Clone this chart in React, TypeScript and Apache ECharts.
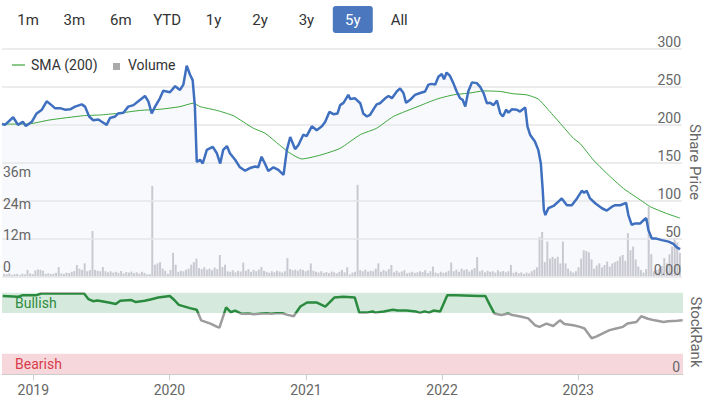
import React, { useEffect, useRef } from 'react';
import * as echarts from 'echarts';

const FONT = 'Roboto, "Liberation Sans", Arial, sans-serif';

const rangeButtons = ['1m', '3m', '6m', 'YTD', '1y', '2y', '3y', '5y', 'All'];
const selectedRange = '5y';
const priceAxisName = 'Share Price';
const rankAxisName = 'StockRank';

const priceSeries: [string, number][] = [
  ['2018-10-09', 201], ['2018-10-17', 200], ['2018-11-08', 210], ['2018-11-21', 200], ['2018-12-04', 204],
  ['2018-12-12', 198.5], ['2018-12-28', 204], ['2019-01-10', 215], ['2019-01-24', 220], ['2019-02-06', 231],
  ['2019-02-19', 226], ['2019-02-28', 222], ['2019-03-14', 222], ['2019-03-27', 220], ['2019-04-10', 220.5],
  ['2019-04-23', 224], ['2019-05-11', 227], ['2019-05-20', 224], ['2019-05-31', 211], ['2019-06-11', 206],
  ['2019-06-25', 207], ['2019-07-04', 204], ['2019-07-17', 200], ['2019-07-26', 209], ['2019-08-09', 211],
  ['2019-08-17', 215], ['2019-08-31', 216], ['2019-09-13', 224], ['2019-09-27', 226], ['2019-10-10', 231],
  ['2019-10-28', 238], ['2019-11-06', 231], ['2019-11-15', 215], ['2019-11-24', 224], ['2019-12-07', 235],
  ['2019-12-16', 245], ['2020-01-03', 243], ['2020-01-17', 251], ['2020-01-30', 246], ['2020-02-08', 253],
  ['2020-02-17', 278], ['2020-02-26', 266], ['2020-03-04', 259], ['2020-03-10', 224], ['2020-03-15', 151],
  ['2020-03-24', 154], ['2020-03-31', 149], ['2020-04-11', 167], ['2020-04-27', 171], ['2020-05-08', 162.5],
  ['2020-05-17', 149], ['2020-05-25', 167], ['2020-06-04', 172], ['2020-06-12', 162.5], ['2020-06-26', 154],
  ['2020-07-09', 144], ['2020-07-23', 139.5], ['2020-08-05', 143], ['2020-08-19', 145], ['2020-08-27', 144],
  ['2020-09-05', 158], ['2020-09-14', 149], ['2020-09-23', 139], ['2020-10-07', 144], ['2020-10-20', 140.5],
  ['2020-11-03', 134], ['2020-11-12', 167], ['2020-11-21', 184], ['2020-12-04', 168], ['2020-12-13', 173.5],
  ['2020-12-26', 187], ['2021-01-04', 185], ['2021-01-18', 198], ['2021-01-31', 193], ['2021-02-14', 198],
  ['2021-02-23', 204], ['2021-03-06', 217], ['2021-03-17', 214], ['2021-03-28', 215], ['2021-04-04', 226],
  ['2021-04-13', 229], ['2021-04-26', 239.5], ['2021-05-01', 234], ['2021-05-14', 235], ['2021-05-28', 228.5],
  ['2021-06-05', 215], ['2021-06-15', 211], ['2021-06-23', 213], ['2021-07-02', 220], ['2021-07-11', 227],
  ['2021-07-20', 228.5], ['2021-08-03', 235], ['2021-08-12', 238], ['2021-08-21', 235], ['2021-09-03', 244],
  ['2021-09-12', 248], ['2021-09-21', 242], ['2021-09-28', 229], ['2021-10-09', 233], ['2021-10-22', 239.5],
  ['2021-11-05', 242], ['2021-11-18', 244], ['2021-11-27', 253], ['2021-12-06', 254], ['2021-12-15', 253],
  ['2021-12-24', 263.5], ['2022-01-02', 267], ['2022-01-08', 260], ['2022-01-15', 269], ['2022-01-24', 264.5],
  ['2022-02-02', 255], ['2022-02-11', 244], ['2022-02-20', 235], ['2022-02-27', 233], ['2022-03-06', 224],
  ['2022-03-14', 244], ['2022-03-24', 256], ['2022-04-06', 255], ['2022-04-15', 250], ['2022-04-24', 242],
  ['2022-05-03', 228.5], ['2022-05-12', 229], ['2022-05-21', 226], ['2022-05-30', 232], ['2022-06-08', 215],
  ['2022-06-15', 211], ['2022-06-24', 220], ['2022-06-30', 216], ['2022-07-09', 220.5], ['2022-07-22', 220],
  ['2022-07-31', 217.5], ['2022-08-14', 223], ['2022-08-20', 198], ['2022-08-27', 187], ['2022-09-09', 178],
  ['2022-09-18', 167], ['2022-09-25', 149], ['2022-09-30', 114], ['2022-10-03', 88], ['2022-10-07', 81],
  ['2022-10-15', 90], ['2022-10-29', 93], ['2022-11-11', 98.7], ['2022-11-20', 103], ['2022-12-04', 94],
  ['2022-12-17', 94], ['2022-12-31', 103], ['2023-01-13', 113], ['2023-01-19', 110.5], ['2023-01-26', 113],
  ['2023-02-04', 103], ['2023-02-18', 96.6], ['2023-03-08', 90], ['2023-03-21', 87], ['2023-04-04', 92],
  ['2023-04-13', 94], ['2023-04-26', 94], ['2023-05-12', 97], ['2023-05-18', 81], ['2023-05-27', 68],
  ['2023-06-05', 70], ['2023-06-19', 70], ['2023-06-28', 74.5], ['2023-07-05', 77], ['2023-07-11', 61],
  ['2023-07-20', 50], ['2023-08-01', 50], ['2023-08-16', 48], ['2023-09-03', 46], ['2023-09-16', 43],
  ['2023-09-25', 38.5], ['2023-10-04', 36],
];

const smaSeries: [string, number][] = [
  ['2018-10-09', 201], ['2018-12-14', 201], ['2019-02-15', 206.5], ['2019-05-15', 212], ['2019-06-29', 213],
  ['2019-08-13', 215], ['2019-10-15', 219], ['2019-12-07', 220.5], ['2020-01-30', 224], ['2020-03-06', 228.5],
  ['2020-03-24', 224], ['2020-05-08', 219], ['2020-06-21', 212], ['2020-08-14', 195.5], ['2020-09-14', 189],
  ['2020-10-23', 173.5], ['2020-11-21', 162.5], ['2020-12-22', 155], ['2021-02-09', 160], ['2021-04-04', 169],
  ['2021-05-28', 187], ['2021-07-11', 195.5], ['2021-08-25', 211], ['2021-11-03', 225], ['2021-12-20', 234],
  ['2022-02-02', 239.5], ['2022-03-19', 242], ['2022-04-24', 244.7], ['2022-06-08', 244], ['2022-07-13', 241],
  ['2022-08-18', 239.5], ['2022-09-18', 234], ['2022-10-11', 222], ['2022-11-16', 202], ['2022-12-22', 182],
  ['2023-01-09', 175], ['2023-02-13', 153.7], ['2023-03-21', 136], ['2023-05-05', 116], ['2023-06-19', 101],
  ['2023-07-16', 92], ['2023-08-29', 83], ['2023-10-04', 77],
];

const rankSeries: [string, number][] = [
  ['2018-10-11', 96], ['2018-11-22', 95], ['2018-12-04', 97], ['2019-01-10', 97], ['2019-01-22', 99],
  ['2019-03-11', 99], ['2019-05-17', 99], ['2019-05-29', 92], ['2019-06-10', 89.5], ['2019-06-22', 90.5],
  ['2019-07-22', 88], ['2019-08-10', 86], ['2019-08-22', 90], ['2019-09-21', 91], ['2019-10-03', 88.5],
  ['2019-10-27', 90], ['2019-11-14', 92], ['2019-12-02', 94], ['2020-01-02', 96], ['2020-01-14', 91],
  ['2020-01-26', 85], ['2020-02-25', 81], ['2020-03-14', 79], ['2020-03-26', 66], ['2020-04-20', 62],
  ['2020-05-08', 58], ['2020-05-14', 57], ['2020-06-01', 82], ['2020-06-13', 76], ['2020-06-25', 78],
  ['2020-07-13', 74], ['2020-07-31', 74.5], ['2020-08-13', 73.5], ['2020-09-06', 74.5], ['2020-09-18', 74.8],
  ['2020-09-30', 74], ['2020-10-12', 74.8], ['2020-10-30', 74.8], ['2020-11-11', 73], ['2020-11-29', 71],
  ['2020-12-17', 83], ['2021-01-04', 88], ['2021-01-29', 88], ['2021-02-22', 83], ['2021-03-18', 94],
  ['2021-04-11', 95], ['2021-05-12', 94], ['2021-05-24', 75.5], ['2021-06-11', 75.5], ['2021-06-29', 77],
  ['2021-07-05', 75.5], ['2021-07-29', 77], ['2021-08-22', 79], ['2021-09-04', 78], ['2021-09-28', 78],
  ['2021-10-22', 77], ['2021-11-03', 75.2], ['2021-11-15', 77], ['2021-11-27', 75.5], ['2021-12-09', 78],
  ['2021-12-27', 77], ['2022-01-15', 97], ['2022-02-08', 97], ['2022-04-09', 96], ['2022-04-27', 96],
  ['2022-05-09', 85], ['2022-05-21', 74.5], ['2022-06-09', 72.5], ['2022-06-27', 74.5], ['2022-07-09', 72.5],
  ['2022-08-02', 70.5], ['2022-08-20', 68.4], ['2022-09-07', 60], ['2022-09-19', 58], ['2022-10-08', 62],
  ['2022-10-26', 59], ['2022-11-13', 66], ['2022-11-25', 61.5], ['2022-12-19', 60], ['2023-01-06', 58],
  ['2023-01-18', 56], ['2023-02-06', 44], ['2023-02-18', 46], ['2023-03-08', 50], ['2023-03-26', 54],
  ['2023-04-13', 56], ['2023-05-01', 58], ['2023-05-13', 62], ['2023-06-06', 64], ['2023-06-19', 71],
  ['2023-07-07', 68], ['2023-07-25', 66], ['2023-08-18', 64], ['2023-08-30', 65], ['2023-09-23', 65.6],
  ['2023-10-08', 66],
];

// weekly volume (millions), first week ending 2018-10-12
const volumeFirstWeek = [2018, 9, 12];
const volumeMillions = [
  1.0, 0.8, 1.2, 0.6, 0.9, 1.0, 0.5, 1.1, 0.8, 2.5, 1.2, 0.9, 2.3, 2.7, 2.5, 2.2, 1.0, 1.2, 0.9, 1.1,
  1.4, 3.6, 1.2, 1.0, 1.5, 1.3, 1.8, 2.1, 4.4, 3.0, 2.5, 5.0, 2.0, 2.4, 17.3, 2.5, 2.2, 2.0, 3.6, 2.0,
  1.6, 2.0, 1.5, 1.8, 1.4, 2.1, 1.2, 1.7, 1.5, 1.9, 1.3, 1.6, 1.1, 1.8, 1.4, 0.8, 0.9, 34.5, 4.5, 5.0,
  5.5, 3.0, 2.2, 1.0, 2.5, 9.0, 4.5, 1.8, 2.2, 2.0, 2.6, 3.0, 4.5, 5.5, 6.8, 3.2, 2.8, 3.5, 2.6, 3.0,
  2.4, 3.4, 2.8, 8.2, 3.6, 4.5, 2.0, 1.8, 2.4, 1.6, 2.2, 1.9, 5.3, 2.2, 2.8, 1.8, 2.5, 2.0, 2.6, 3.6,
  2.2, 1.8, 1.4, 2.0, 1.6, 2.2, 1.9, 1.5, 2.0, 7.0, 2.8, 2.4, 2.6, 2.2, 2.8, 2.5, 2.0, 2.4, 5.0, 2.2,
  1.8, 1.5, 2.0, 1.4, 1.7, 1.3, 1.9, 1.6, 1.2, 1.8, 2.5, 1.6, 3.5, 0.8, 1.5, 1.8, 34.9, 2.4, 2.0, 2.6,
  1.8, 2.2, 2.0, 3.0, 5.0, 1.8, 2.5, 2.0, 2.8, 4.4, 1.6, 2.2, 1.5, 1.9, 2.4, 1.2, 1.5, 1.8, 1.4, 1.6,
  2.0, 1.7, 2.4, 1.3, 2.0, 3.8, 1.5, 1.2, 1.8, 1.4, 1.6, 2.2, 5.3, 2.0, 2.6, 1.8, 3.0, 2.4, 2.8, 1.9,
  2.6, 3.2, 7.4, 2.0, 2.4, 1.6, 2.2, 1.8, 2.0, 1.5, 2.4, 1.8, 2.1, 1.6, 2.0, 4.4, 1.4, 1.8, 1.2, 1.6,
  1.0, 1.5, 1.2, 2.0, 2.6, 3.5, 15.0, 17.0, 5.5, 13.3, 6.8, 7.5, 6.8, 7.5, 5.0, 13.3, 5.0, 3.0, 2.0, 1.5,
  2.0, 3.5, 6.8, 10.0, 9.7, 9.2, 6.5, 3.0, 4.2, 5.0, 3.5, 4.4, 5.7, 3.8, 5.0, 5.5, 6.0, 7.6, 8.2, 6.0,
  16.5, 10.0, 11.4, 6.5, 3.8, 2.5, 1.5, 2.8, 26.5, 8.5, 2.0, 2.5, 3.0, 4.0, 7.0, 5.0, 8.5, 11.4, 14.6, 13.0,
  9.0,
];

const priceTicks = { min: 0, max: 300, interval: 50 };
const volumeTicks = { min: 0, max: 48, interval: 12 };
const rankBands = { bearishTop: 25, bullishBottom: 75, max: 100 };

export default function App() {
  const ref = useRef<HTMLDivElement>(null);

  useEffect(() => {
    if (!ref.current) return;
    const chart = echarts.init(ref.current, undefined, { renderer: 'svg' });

    const volumeData = volumeMillions.map((v, i) => {
      const d = new Date(volumeFirstWeek[0], volumeFirstWeek[1], volumeFirstWeek[2] + i * 7);
      return [d.getTime(), v * 1e6];
    });

    const xMin = new Date(2018, 9, 9).getTime();
    const xMax = new Date(2023, 9, 9).getTime();

    const btnGraphics: any[] = [];
    rangeButtons.forEach((label, i) => {
      const cx = 28 + i * 46.4;
      const sel = label === selectedRange;
      if (sel) {
        btnGraphics.push({
          type: 'rect',
          shape: { x: cx - 20, y: 6, width: 40, height: 27, r: 3 },
          style: { fill: '#4a77bd' },
        });
      }
      btnGraphics.push({
        type: 'text',
        x: cx,
        y: 20,
        style: {
          text: label,
          fontSize: 15,
          fontFamily: FONT,
          fill: sel ? '#ffffff' : '#333333',
          align: 'center',
          verticalAlign: 'middle',
        },
      });
    });

    const legendGraphics = [
      { type: 'line', shape: { x1: 12, y1: 65, x2: 25, y2: 65 }, style: { stroke: '#3ba53b', lineWidth: 1.2 } },
      {
        type: 'text', x: 31, y: 65,
        style: { text: 'SMA (200)', fontSize: 14, fontFamily: FONT, fill: '#333', verticalAlign: 'middle' },
      },
      { type: 'rect', shape: { x: 113, y: 63, width: 7, height: 7 }, style: { fill: '#aaaaaa' } },
      {
        type: 'text', x: 128, y: 65,
        style: { text: 'Volume', fontSize: 14, fontFamily: FONT, fill: '#333', verticalAlign: 'middle' },
      },
    ];

    const axisNameGraphics = [
      {
        type: 'text', x: 695, y: 162, rotation: -Math.PI / 2,
        style: {
          text: priceAxisName, fontSize: 15, fontFamily: FONT, fill: '#666',
          align: 'center', verticalAlign: 'middle',
        },
      },
      {
        type: 'text', x: 696, y: 332, rotation: -Math.PI / 2,
        style: {
          text: rankAxisName, fontSize: 15, fontFamily: FONT, fill: '#666',
          align: 'center', verticalAlign: 'middle',
        },
      },
    ];

    const option: any = {
      animation: false,
      textStyle: { fontFamily: FONT },
      grid: [
        { left: 2, right: 23, top: 49, height: 227.5, outerBoundsMode: 'none', containLabel: false },
        { left: 2, right: 23, top: 150.5, height: 126, outerBoundsMode: 'none', containLabel: false },
        { left: 2, right: 22, top: 292.7, height: 81.3, outerBoundsMode: 'none', containLabel: false },
      ],
      xAxis: [
        { type: 'time', gridIndex: 0, min: xMin, max: xMax, show: false },
        { type: 'time', gridIndex: 1, min: xMin, max: xMax, show: false },
        {
          type: 'time', gridIndex: 2, min: xMin, max: xMax,
          splitNumber: 5,
          axisLine: { show: true, lineStyle: { color: '#cccccc' } },
          axisTick: { show: true, length: 6, lineStyle: { color: '#cccccc' } },
          axisLabel: { color: '#666', fontSize: 14, formatter: '{yyyy}', margin: 9 },
          splitLine: { show: false },
        },
      ],
      yAxis: [
        {
          type: 'value', gridIndex: 0, position: 'right', z: 5,
          min: priceTicks.min, max: priceTicks.max, interval: priceTicks.interval,
          axisLine: { show: false }, axisTick: { show: false },
          axisLabel: {
            inside: true, color: '#666', fontSize: 14, verticalAlign: 'bottom', margin: 1,
            formatter: (v: number) => (v === 0 ? '0.00' : String(v)),
          },
          splitLine: { lineStyle: { color: '#e6e6e9', width: 1.5 } },
        },
        {
          type: 'value', gridIndex: 1, position: 'left', z: 5,
          min: volumeTicks.min * 1e6, max: volumeTicks.max * 1e6, interval: volumeTicks.interval * 1e6,
          axisLine: { show: false }, axisTick: { show: false }, splitLine: { show: false },
          axisLabel: {
            inside: true, color: '#666', fontSize: 14, verticalAlign: 'bottom', margin: 1,
            padding: [0, 0, 3, 0],
            formatter: (v: number) => (v === 0 ? '0' : v >= volumeTicks.max * 1e6 ? '' : v / 1e6 + 'm'),
          },
        },
        {
          type: 'value', gridIndex: 2, position: 'right', z: 8,
          min: 0, max: rankBands.max, interval: 25,
          axisLine: { show: false }, axisTick: { show: false }, splitLine: { show: false },
          axisLabel: {
            show: true, showMinLabel: true,
            inside: true, color: '#666', fontSize: 14, verticalAlign: 'bottom', margin: 3,
            formatter: (v: number) => (v === 0 ? '0' : ''),
          },
        },
      ],
      visualMap: {
        type: 'piecewise', show: false, seriesIndex: 4, dimension: 1,
        pieces: [
          { gte: rankBands.bullishBottom, lte: rankBands.max, color: '#2a8a3e' },
          { gte: 0, lt: rankBands.bullishBottom, color: '#9c9c9c' },
        ],
        outOfRange: { color: '#9c9c9c' },
      },
      series: [
        {
          type: 'line', name: 'PriceArea', xAxisIndex: 0, yAxisIndex: 0, data: priceSeries,
          showSymbol: false, silent: true, z: 1,
          lineStyle: { width: 0, opacity: 0 },
          areaStyle: { color: 'rgba(70,100,190,0.055)' },
        },
        {
          type: 'bar', name: 'Volume', xAxisIndex: 1, yAxisIndex: 1, data: volumeData,
          barWidth: 2, itemStyle: { color: '#c9cad1' }, z: 3,
        },
        {
          type: 'line', name: 'SMA (200)', xAxisIndex: 0, yAxisIndex: 0, data: smaSeries,
          showSymbol: false, z: 6, smooth: 0.2,
          lineStyle: { color: '#3ba53b', width: 1 },
        },
        {
          type: 'line', name: 'Price', xAxisIndex: 0, yAxisIndex: 0, data: priceSeries,
          showSymbol: false, z: 7,
          lineStyle: { color: '#3f6fbf', width: 2.5 },
        },
        {
          type: 'line', name: 'StockRank', xAxisIndex: 2, yAxisIndex: 2, data: rankSeries,
          showSymbol: false, z: 6,
          lineStyle: { width: 2.5 },
          markArea: {
            silent: true,
            label: { show: true, position: 'insideLeft', distance: 13, fontSize: 14, fontFamily: FONT },
            data: [
              [
                {
                  name: 'Bullish', coord: [xMin, rankBands.bullishBottom],
                  itemStyle: { color: '#d5eadc' },
                  label: { color: '#2e8a40' },
                },
                { coord: [xMax, rankBands.max] },
              ],
              [
                {
                  name: 'Bearish', coord: [xMin, 0],
                  itemStyle: { color: '#f6d8dc' },
                  label: { color: '#d93c4a' },
                },
                { coord: [xMax, rankBands.bearishTop] },
              ],
            ],
          },
        },
      ],
      graphic: [...btnGraphics, ...legendGraphics, ...axisNameGraphics],
    };

    chart.setOption(option);
    return () => chart.dispose();
  }, []);

  return (
    <div
      ref={ref}
      style={{ position: 'fixed', left: 0, top: 0, width: 705, height: 397, background: '#fff' }}
    />
  );
}
